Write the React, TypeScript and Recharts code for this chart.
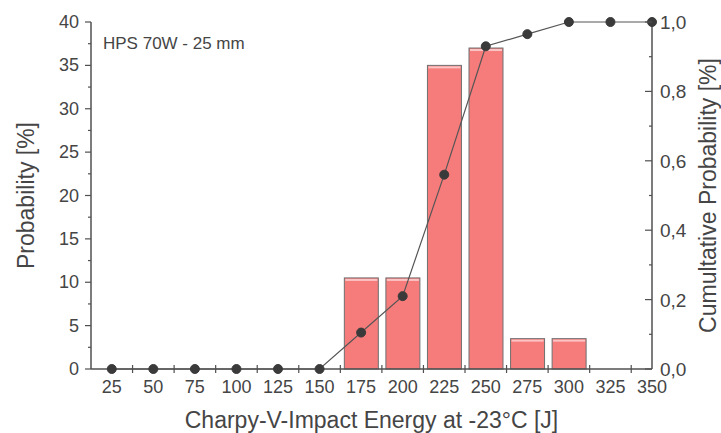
import { ComposedChart, Bar, Line, XAxis, YAxis, Label } from 'recharts'

const energies = [25, 50, 75, 100, 125, 150, 175, 200, 225, 250, 275, 300, 325, 350]
const probability = [null, null, null, null, null, null, 10.5, 10.5, 35, 37, 3.5, 3.5, null, null]
const cumulative = [0, 0, 0, 0, 0, 0, 0.105, 0.21, 0.56, 0.93, 0.965, 1, 1, 1]
const probTicks = [0, 5, 10, 15, 20, 25, 30, 35, 40]
const cumTicks = [0, 0.2, 0.4, 0.6, 0.8, 1]

const FONT = 'Liberation Sans, Arial, sans-serif'
const AXIS = '#505050'
const TEXT = '#454545'

const data = energies.map((e, i) => ({ energy: e, prob: probability[i], cum: cumulative[i] }))

const half = (energies[1] - energies[0]) / 2
const xDomain = [energies[0] - half, energies[energies.length - 1]]
const xTicks = [...energies, ...energies.slice(0, -1).map((e) => e + half)].sort((a, b) => a - b)
const yMinor = probTicks.slice(1).map((v) => v - (probTicks[1] - probTicks[0]) / 2)
const yTicks = [...probTicks, ...yMinor].sort((a, b) => a - b)
const cMinor = cumTicks.slice(1).map((v) => v - (cumTicks[1] - cumTicks[0]) / 2)
const cTicks = [...cumTicks, ...cMinor].sort((a, b) => a - b)

const BottomTick = (props: any) => {
  const { x, y, payload } = props
  const isLabel = energies.includes(payload.value)
  if (!isLabel) {
    return <line x1={x} x2={x} y1={y - 4} y2={y + 4} stroke={AXIS} strokeWidth={1.2} />
  }
  return (
    <text x={x} y={y + 24} textAnchor="middle" fontSize={18} fontFamily={FONT} fill={TEXT}>
      {payload.value}
    </text>
  )
}

const LeftTick = (props: any) => {
  const { x, y, payload } = props
  const major = probTicks.includes(payload.value)
  if (!major) {
    return <line x1={x - 3} x2={x} y1={y} y2={y} stroke={AXIS} strokeWidth={1.2} />
  }
  return (
    <g>
      <line x1={x - 6} x2={x} y1={y} y2={y} stroke={AXIS} strokeWidth={1.2} />
      <text x={x - 12} y={y + 6} textAnchor="end" fontSize={18} fontFamily={FONT} fill={TEXT}>
        {payload.value}
      </text>
    </g>
  )
}

const RightTick = (props: any) => {
  const { x, y, payload } = props
  const major = cumTicks.some((v) => Math.abs(v - payload.value) < 1e-6)
  if (!major) {
    return <line x1={x - 3} x2={x} y1={y} y2={y} stroke={AXIS} strokeWidth={1.2} />
  }
  return (
    <g>
      <line x1={x - 7} x2={x} y1={y} y2={y} stroke={AXIS} strokeWidth={1.2} />
      <text x={x + 8} y={y + 7} textAnchor="start" fontSize={19} fontFamily={FONT} fill={TEXT}>
        {payload.value.toFixed(1).replace('.', ',')}
      </text>
    </g>
  )
}

const BarShape = (props: any) => {
  const { x, y, width, height } = props
  if (!height) return null
  return (
    <g>
      <rect x={x} y={y} width={width} height={height} fill="#F67B7B" stroke="#707070" strokeWidth={1} />
      <rect x={x + 1} y={y + 1} width={width - 2} height={2} fill="#FBC4C4" />
    </g>
  )
}

const titleStyle = { fontSize: 23, fontFamily: FONT, fill: TEXT }

export default function App() {
  return (
    <div style={{ position: 'absolute', left: 0, top: 0, width: 721, height: 433, background: '#fff' }}>
      <ComposedChart width={721} height={433} data={data} margin={{ top: 22, right: 0, bottom: 0, left: 0 }}>
        <XAxis
          dataKey="energy"
          type="number"
          domain={xDomain}
          ticks={xTicks}
          interval={0}
          height={64}
          tickSize={0}
          tickMargin={0}
          tickLine={false}
          axisLine={{ stroke: AXIS, strokeWidth: 1.5 }}
          tick={<BottomTick />}
        >
          <Label
            content={(p: any) => {
              const vb = p.viewBox
              return (
                <text x={vb.x + vb.width / 2} y={vb.y + 59} textAnchor="middle" {...titleStyle}>
                  Charpy-V-Impact Energy at -23°C [J]
                </text>
              )
            }}
          />
        </XAxis>
        <XAxis
          xAxisId="top"
          orientation="top"
          dataKey="energy"
          type="number"
          domain={xDomain}
          height={0}
          tick={false}
          tickLine={false}
          axisLine={{ stroke: AXIS, strokeWidth: 1.5 }}
        />
        <YAxis
          yAxisId="prob"
          domain={[0, 40]}
          ticks={yTicks}
          interval={0}
          width={91}
          tickSize={0}
          tickMargin={0}
          tickLine={false}
          axisLine={{ stroke: AXIS, strokeWidth: 1.5 }}
          tick={<LeftTick />}
        >
          <Label
            content={(p: any) => {
              const vb = p.viewBox
              const cx = vb.x + 34
              const cy = vb.y + vb.height / 2
              return (
                <text x={cx} y={cy} transform={`rotate(-90 ${cx} ${cy})`} textAnchor="middle" {...titleStyle}>
                  Probability [%]
                </text>
              )
            }}
          />
        </YAxis>
        <YAxis
          yAxisId="cum"
          orientation="right"
          domain={[0, 1]}
          ticks={cTicks}
          interval={0}
          width={69}
          tickSize={0}
          tickMargin={0}
          tickLine={false}
          axisLine={{ stroke: AXIS, strokeWidth: 1.5 }}
          tick={<RightTick />}
        >
          <Label
            content={(p: any) => {
              const vb = p.viewBox
              const cx = vb.x + 64
              const cy = vb.y + vb.height / 2
              return (
                <text x={cx} y={cy} transform={`rotate(-90 ${cx} ${cy})`} textAnchor="middle" {...titleStyle}>
                  Cumultative Probability [%]
                </text>
              )
            }}
          />
        </YAxis>
        <Bar yAxisId="prob" dataKey="prob" barSize={34} shape={<BarShape />} isAnimationActive={false} />
        <Line
          yAxisId="cum"
          dataKey="cum"
          type="linear"
          stroke="#555"
          strokeWidth={1.2}
          dot={{ r: 4.5, fill: '#3a3a3a', stroke: '#3a3a3a', strokeWidth: 1 }}
          activeDot={false}
          isAnimationActive={false}
        />
      </ComposedChart>
      <div
        style={{
          position: 'absolute',
          left: 103,
          top: 34,
          fontFamily: FONT,
          fontSize: 17,
          color: TEXT,
          lineHeight: '20px',
        }}
      >
        HPS 70W - 25 mm
      </div>
    </div>
  )
}
